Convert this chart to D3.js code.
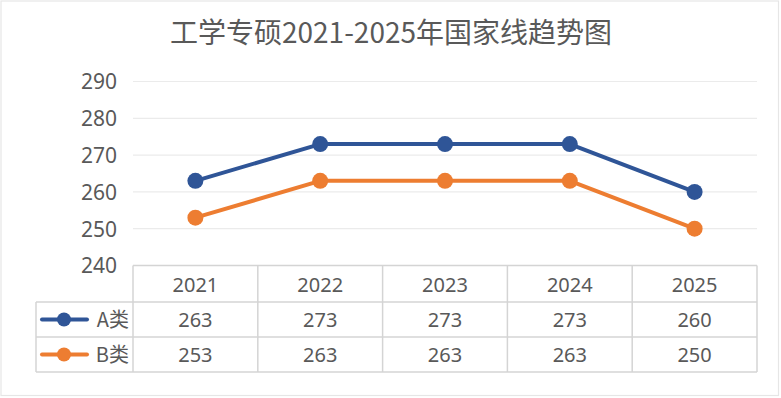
<!DOCTYPE html>
<html>
<head>
<meta charset="utf-8">
<script src="https://cdn.jsdelivr.net/npm/d3@7"></script>
<style>
  html, body { margin: 0; padding: 0; background: #fff; }
  svg { display: block; font-family: "Noto Sans CJK SC", "Noto Sans", sans-serif; }
</style>
</head>
<body>
<div id="chart"></div>
<script>
var years = ["2021", "2022", "2023", "2024", "2025"];
var seriesNames = ["A类", "B类"];
var valuesA = [263, 273, 273, 273, 260];
var valuesB = [253, 263, 263, 263, 250];
var yTicks = [240, 250, 260, 270, 280, 290];
var colors = ["#2F5597", "#ED7D31"];

var width = 781;
var height = 398;
var textColor = "#595959";
var gridColor = "#EBEBEB";
var tableColor = "#D4D4D4";

var series = [
  { name: seriesNames[0], values: valuesA },
  { name: seriesNames[1], values: valuesB }
];

var svg = d3
  .select("#chart")
  .append("svg")
  .attr("width", width)
  .attr("height", height);

/* chart border */
svg
  .append("rect")
  .attr("x", 1)
  .attr("y", 1)
  .attr("width", width - 3.5)
  .attr("height", height - 3.5)
  .attr("fill", "#fff")
  .attr("stroke", "#E6E6E6")
  .attr("stroke-width", 1.2);

/* title */
svg
  .append("text")
  .attr("x", 391)
  .attr("y", 43)
  .attr("text-anchor", "middle")
  .attr("fill", textColor)
  .style("font-size", "28px")
  .text("工学专硕2021-2025年国家线趋势图");

/* Scales */
var xScale = d3.scaleBand().domain(years).range([133, 757]);
var yScale = d3.scaleLinear().domain([240, 290]).range([265.5, 81.5]);

/* grid */
svg
  .append("g")
  .selectAll("line")
  .data(yTicks.slice(1))
  .enter()
  .append("line")
  .attr("x1", 133)
  .attr("x2", 757)
  .attr("y1", (d) => yScale(d))
  .attr("y2", (d) => yScale(d))
  .attr("stroke", gridColor)
  .attr("stroke-width", 1.2);

/* y axis */
var yAxis = d3.axisLeft(yScale).tickValues(yTicks).tickSize(0).tickPadding(0);
var yG = svg
  .append("g")
  .attr("transform", "translate(117,0)")
  .call(yAxis);
yG.select(".domain").remove();
yG.selectAll("text")
  .attr("fill", textColor)
  .attr("dy", "0.35em")
  .style("font-family", "'Noto Sans', sans-serif")
  .style("font-size", "21px");

/* lines */
var line = d3
  .line()
  .x((d, i) => xScale(years[i]) + xScale.bandwidth() / 2)
  .y((d) => yScale(d));

var groups = svg
  .selectAll(".series")
  .data(series)
  .enter()
  .append("g")
  .attr("class", "series");

groups
  .append("path")
  .attr("d", (d) => line(d.values))
  .attr("fill", "none")
  .attr("stroke", (d, i) => colors[i])
  .attr("stroke-width", 4)
  .attr("stroke-linejoin", "round");

groups
  .each(function (s, si) {
    d3.select(this)
      .selectAll("circle")
      .data(s.values)
      .enter()
      .append("circle")
      .attr("cx", (d, i) => xScale(years[i]) + xScale.bandwidth() / 2)
      .attr("cy", (d) => yScale(d))
      .attr("r", 8)
      .attr("fill", colors[si]);
  });

/* data table */
var rowTop = 265.5;
var rowH = [36.5, 35, 35];
var rowY = [rowTop, rowTop + rowH[0], rowTop + rowH[0] + rowH[1], rowTop + rowH[0] + rowH[1] + rowH[2]];
var legendLeft = 36;
var table = svg.append("g").attr("stroke", tableColor).attr("stroke-width", 1.5).attr("fill", "none");

// horizontal lines
table.append("line").attr("x1", 133).attr("x2", 757).attr("y1", rowY[0]).attr("y2", rowY[0]);
[1, 2, 3].forEach(function (r) {
  table.append("line").attr("x1", legendLeft).attr("x2", 757).attr("y1", rowY[r]).attr("y2", rowY[r]);
});
// vertical lines
years.forEach(function (y) {
  table.append("line").attr("x1", xScale(y)).attr("x2", xScale(y)).attr("y1", rowY[0]).attr("y2", rowY[3]);
});
table.append("line").attr("x1", 757).attr("x2", 757).attr("y1", rowY[0]).attr("y2", rowY[3]);
table.append("line").attr("x1", legendLeft).attr("x2", legendLeft).attr("y1", rowY[1]).attr("y2", rowY[3]);

var cellFont = "20px";
var cx = (y) => xScale(y) + xScale.bandwidth() / 2;

svg
  .append("g")
  .selectAll("text")
  .data(years)
  .enter()
  .append("text")
  .attr("x", cx)
  .attr("y", (rowY[0] + rowY[1]) / 2 + 1.5)
  .attr("dy", "0.35em")
  .attr("text-anchor", "middle")
  .attr("fill", textColor)
  .style("font-size", cellFont)
  .style("font-family", "'Noto Sans', sans-serif")
  .text((d) => d);

series.forEach(function (s, si) {
  var midY = (rowY[si + 1] + rowY[si + 2]) / 2;
  var g = svg.append("g");
  g.selectAll("text")
    .data(s.values)
    .enter()
    .append("text")
    .attr("x", (d, i) => cx(years[i]))
    .attr("y", midY)
    .attr("dy", "0.35em")
    .attr("text-anchor", "middle")
    .attr("fill", textColor)
    .style("font-size", cellFont)
    .style("font-family", "'Noto Sans', sans-serif")
    .text((d) => d);

  // legend key
  g.append("line")
    .attr("x1", 42)
    .attr("x2", 87)
    .attr("y1", midY)
    .attr("y2", midY)
    .attr("stroke", colors[si])
    .attr("stroke-width", 4)
    .attr("stroke-linecap", "round");
  g.append("circle")
    .attr("cx", 64)
    .attr("cy", midY)
    .attr("r", 7)
    .attr("fill", colors[si]);
  g.append("text")
    .attr("x", 129)
    .attr("y", midY)
    .attr("dy", "0.35em")
    .attr("text-anchor", "end")
    .attr("fill", textColor)
    .style("font-size", cellFont)
    .text(s.name);
});
</script>
</body>
</html>
